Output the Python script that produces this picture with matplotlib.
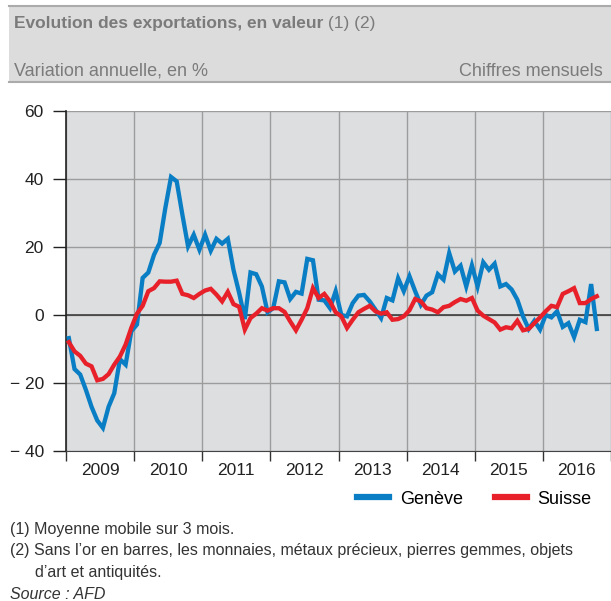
import numpy as np
import matplotlib
matplotlib.use("Agg")
from matplotlib import pyplot as plt
from matplotlib.patches import Rectangle
from matplotlib.lines import Line2D

# Variation annuelle en %, moyenne mobile 3 mois, janv. 2009 - oct. 2016
geneve = [-6.8, -15.9, -17.5, -22.0, -27.0, -31.0, -33.2, -27.0, -23.0, -13.0, -14.6, -4.8,
          -2.8, 10.9, 12.5, 17.7, 21.2, 31.5, 40.6, 39.3, 29.5, 20.2, 23.6, 19.2,
          23.6, 18.9, 22.4, 21.0, 22.4, 13.3, 6.5, -1.2, 12.5, 12.0, 8.4, 0.8,
          2.0, 9.9, 9.6, 4.7, 6.8, 6.3, 16.5, 16.1, 4.5, 4.3, 2.0, 7.0,
          0.0, -0.4, 3.5, 5.7, 5.9, 4.0, 1.6, -0.9, 5.0, 4.3, 10.8, 7.0,
          11.4, 7.0, 3.0, 5.7, 6.7, 12.0, 10.4, 18.2, 12.8, 14.5, 8.4, 14.6,
          8.4, 15.5, 13.3, 15.1, 8.4, 9.1, 7.5, 4.5, -0.4, -4.1, -1.7, -4.3,
          0.0, -0.7, 1.1, -3.5, -2.4, -6.5, -1.4, -2.1, 9.1, -4.1]
suisse = [-8.0, -10.7, -12.0, -14.3, -15.1, -19.2, -18.8, -17.4, -14.6, -12.2, -8.7, -3.8,
          0.4, 2.7, 7.0, 7.9, 9.9, 9.8, 9.8, 10.1, 6.2, 5.8, 5.0, 6.2,
          7.2, 7.7, 6.0, 4.0, 6.8, 3.2, 2.4, -4.3, -0.9, 0.4, 2.0, 1.3,
          2.0, 2.0, 0.9, -1.9, -4.5, -1.4, 2.0, 7.9, 5.0, 6.2, 4.0, 0.8,
          -0.4, -3.8, -1.4, 0.8, 1.8, 2.7, 1.1, 0.4, 0.8, -1.4, -1.2, -0.4,
          1.4, 4.7, 4.0, 2.0, 1.6, 0.8, 2.3, 2.7, 3.8, 4.7, 4.2, 5.0,
          1.3, -0.2, -1.2, -2.2, -4.3, -3.6, -3.9, -1.7, -4.5, -4.1, -2.4, -0.7,
          1.1, 2.7, 2.3, 6.2, 7.0, 7.9, 3.5, 3.5, 4.7, 5.5]
annees = [2009, 2010, 2011, 2012, 2013, 2014, 2015, 2016]
yticks = [-40, -20, 0, 20, 40, 60]
ylabels = ["\u2212 40", "\u2212 20", "0", "20", "40", "60"]
series = ["Genève", "Suisse"]

BLEU = "#0a7ec4"
ROUGE = "#e8202a"
GRIS_TXT = "#7b7b7b"

plt.rcParams['font.family'] = ['Liberation Sans', 'DejaVu Sans']

W, H = 611.0, 601.0
def fx(px):
    return px / W
def fy(py):
    return 1 - py / H

fig = plt.figure(figsize=(W / 100, H / 100), dpi=100)

# bandeau du titre (zorder négatif pour rester sous les textes)
fig.patches.append(Rectangle((fx(9), fy(82)), 1 - fx(9), (82 - 6) / H,
                             transform=fig.transFigure, facecolor="#dcdcdc",
                             edgecolor="none", zorder=-1))
for yy in (6, 82):
    fig.add_artist(Line2D([fx(9), 1], [fy(yy), fy(yy)], color="#ababab", lw=1.5))

t1 = fig.text(fx(14), fy(28), "Evolution des exportations, en valeur",
              fontsize=12.5, fontweight="bold", color=GRIS_TXT, va="baseline")
fig.text(fx(14), fy(76), "Variation annuelle, en %", fontsize=13,
         color=GRIS_TXT, va="baseline")
fig.text(fx(603), fy(76), "Chiffres mensuels", fontsize=13,
         color=GRIS_TXT, va="baseline", ha="right")

ax = fig.add_axes([fx(66), fy(451), 1 - fx(66), (451 - 111) / H])
ax.annotate(" (1) (2)", xy=(1, 0), xycoords=t1, va="bottom", fontsize=12.5,
            color=GRIS_TXT, annotation_clip=False, zorder=5)

mois = np.arange(len(geneve)) + 0.5
ax.set_facecolor("#dcdee0")
ax.axhline(0, color="#333333", lw=1.1, zorder=2)
ax.plot(mois, geneve, color=BLEU, lw=3.1, solid_joinstyle="miter", zorder=3)
ax.plot(mois, suisse, color=ROUGE, lw=3.1, solid_joinstyle="miter", zorder=3)

ax.set_xlim(0, 12 * len(annees))
ax.set_ylim(-40, 60)
ax.set_yticks(yticks)
ax.set_yticklabels(ylabels)
ax.set_xticks(np.arange(0, 12 * len(annees) + 1, 12))
ax.set_xticklabels([])
ax.set_xticks(np.arange(len(annees)) * 12 + 6, minor=True)
ax.set_xticklabels([str(a) for a in annees], minor=True)
ax.grid(True, which="major", color="#9c9c9c", lw=1)
ax.set_axisbelow(True)

ax.tick_params(axis="y", length=9.5, width=1, pad=6.5, labelsize=12.5,
               colors="#222222")
ax.tick_params(axis="x", which="major", length=7.5, width=1, color="#333333")
ax.tick_params(axis="x", which="minor", length=0, pad=8.5, labelsize=12.5,
               labelcolor="#222222")
for s in ("top", "right"):
    ax.spines[s].set_visible(False)
ax.spines["left"].set_color("#222222")
ax.spines["left"].set_linewidth(1.2)
ax.spines["bottom"].set_color("#444444")

poignees = [Line2D([], [], color=BLEU, lw=4.5), Line2D([], [], color=ROUGE, lw=4.5)]
fig.legend(poignees, series, loc="center left", bbox_to_anchor=(fx(357), fy(499)),
           ncol=2, frameon=False, fontsize=13, handlelength=1.77,
           handletextpad=0.6, columnspacing=1.77, borderpad=0, borderaxespad=0)

notes = ["(1) Moyenne mobile sur 3 mois.",
         "(2) Sans l\u2019or en barres, les monnaies, métaux précieux, pierres gemmes, objets"]
fig.text(fx(10), fy(534), notes[0], fontsize=11.5, color="#333333", va="baseline")
fig.text(fx(10), fy(555), notes[1], fontsize=11.5, color="#333333", va="baseline")
fig.text(fx(35), fy(577), "d\u2019art et antiquités.", fontsize=11.5, color="#333333",
         va="baseline")
fig.text(fx(10), fy(599), "Source : AFD", fontsize=11.5, style="italic",
         color="#333333", va="baseline")

fig.savefig("out.png", dpi=100)
